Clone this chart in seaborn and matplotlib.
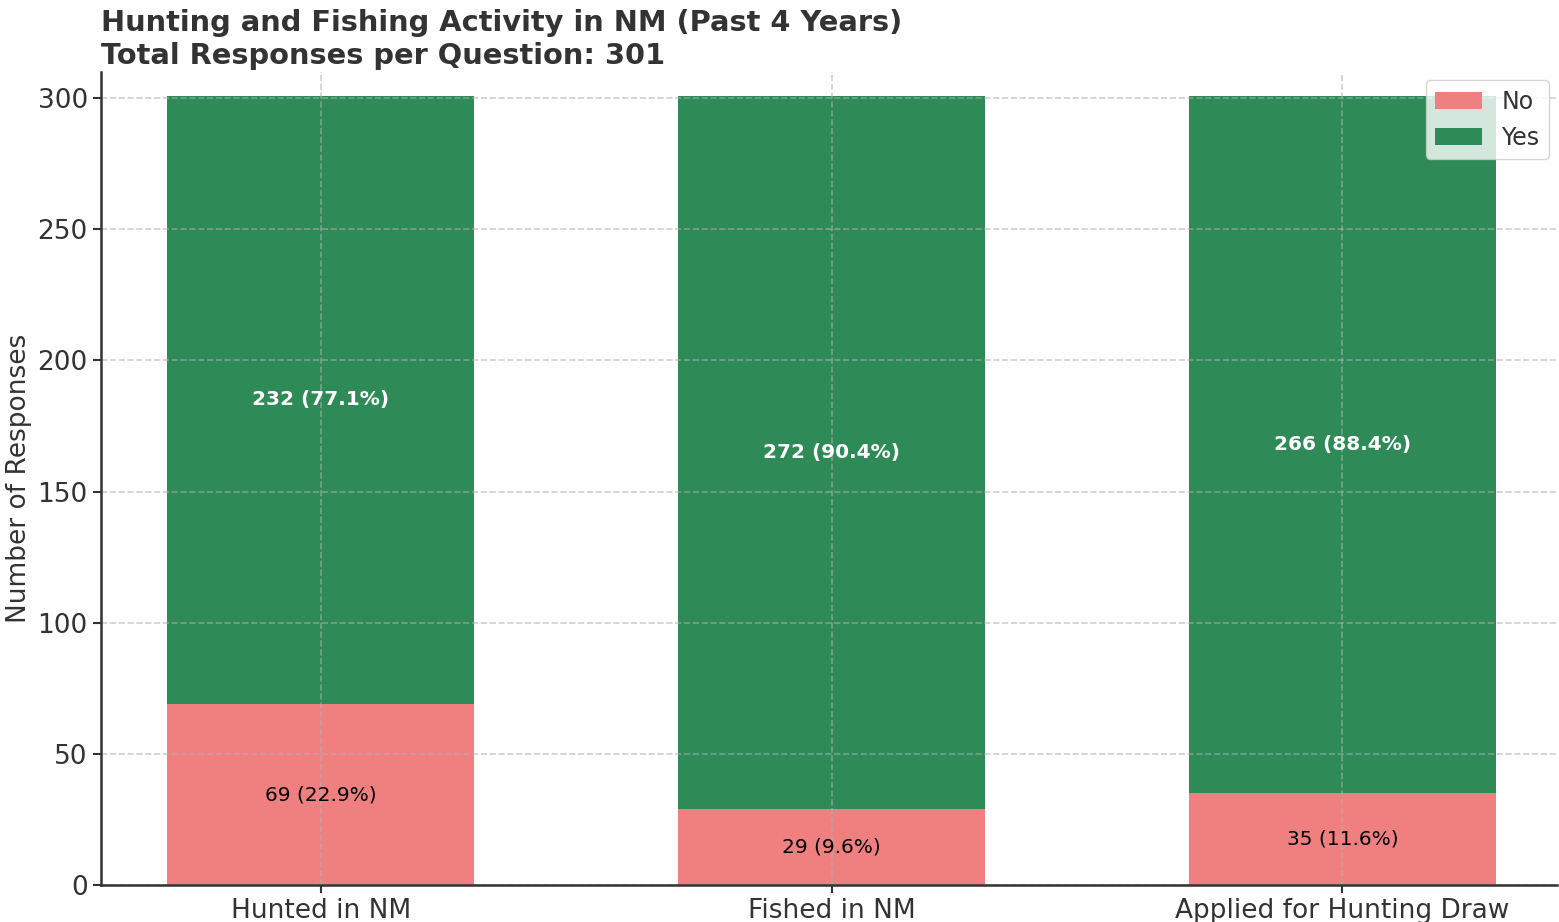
import matplotlib
matplotlib.use("Agg")
import matplotlib.pyplot as plt
import seaborn as sns
import pandas as pd

# Survey data
questions = ["Hunted in NM", "Fished in NM", "Applied for Hunting Draw"]
no_counts = [69, 29, 35]
yes_counts = [232, 272, 266]
total_responses = 301

NO_COLOR = "#F08080"
YES_COLOR = "#2E8B57"
TEXT_COLOR = "#333333"

df = pd.DataFrame({"Question": questions, "No": no_counts, "Yes": yes_counts})
df["Total"] = df["No"] + df["Yes"]

plt.rcParams["font.family"] = ["DejaVu Sans"]
plt.rcParams["axes.axisbelow"] = "line"

fig = plt.figure(figsize=(15.59, 9.22), dpi=100)
ax = fig.add_axes([0.0648, 0.0401, 0.9339, 0.8818])

# stacked look: total (Yes on top) first, then No over the lower part
sns.barplot(data=df, x="Question", y="Total", color=YES_COLOR, width=0.6,
            saturation=1, label="Yes", ax=ax)
sns.barplot(data=df, x="Question", y="No", color=NO_COLOR, width=0.6,
            saturation=1, label="No", ax=ax)

for i, row in df.iterrows():
    no_pct = row["No"] / total_responses * 100
    yes_pct = row["Yes"] / total_responses * 100
    ax.text(i, row["No"] / 2, f"{row['No']} ({no_pct:.1f}%)", ha="center",
            va="center", fontsize=14.5, color="black")
    ax.text(i, row["No"] + row["Yes"] / 2, f"{row['Yes']} ({yes_pct:.1f}%)",
            ha="center", va="center", fontsize=14.5, color="white",
            fontweight="bold")

ax.set_xlim(-0.43, 2.42)
ax.set_ylim(0, 310)
ax.set_xlabel("")
ax.set_ylabel("Number of Responses", fontsize=19, color=TEXT_COLOR)
ax.tick_params(axis="both", labelsize=19, labelcolor=TEXT_COLOR, length=6,
               width=1.5, color=TEXT_COLOR)
ax.grid(True, linestyle="--", color="#b0b0b0", alpha=0.6, linewidth=1.2)

for side in ["top", "right"]:
    ax.spines[side].set_visible(False)
for side in ["left", "bottom"]:
    ax.spines[side].set_linewidth(1.8)
    ax.spines[side].set_color(TEXT_COLOR)

ax.set_title(
    f"Hunting and Fishing Activity in NM (Past 4 Years)\n"
    f"Total Responses per Question: {total_responses}",
    loc="left", fontsize=20.8, fontweight="bold", color=TEXT_COLOR,
)

handles, labels = ax.get_legend_handles_labels()
order = [labels.index("No"), labels.index("Yes")]
ax.legend([handles[k] for k in order], [labels[k] for k in order],
          loc="upper right", fontsize=17, framealpha=0.8,
          labelcolor=TEXT_COLOR, borderaxespad=0.35, handlelength=2.0)

fig.savefig("out.png", dpi=100)
